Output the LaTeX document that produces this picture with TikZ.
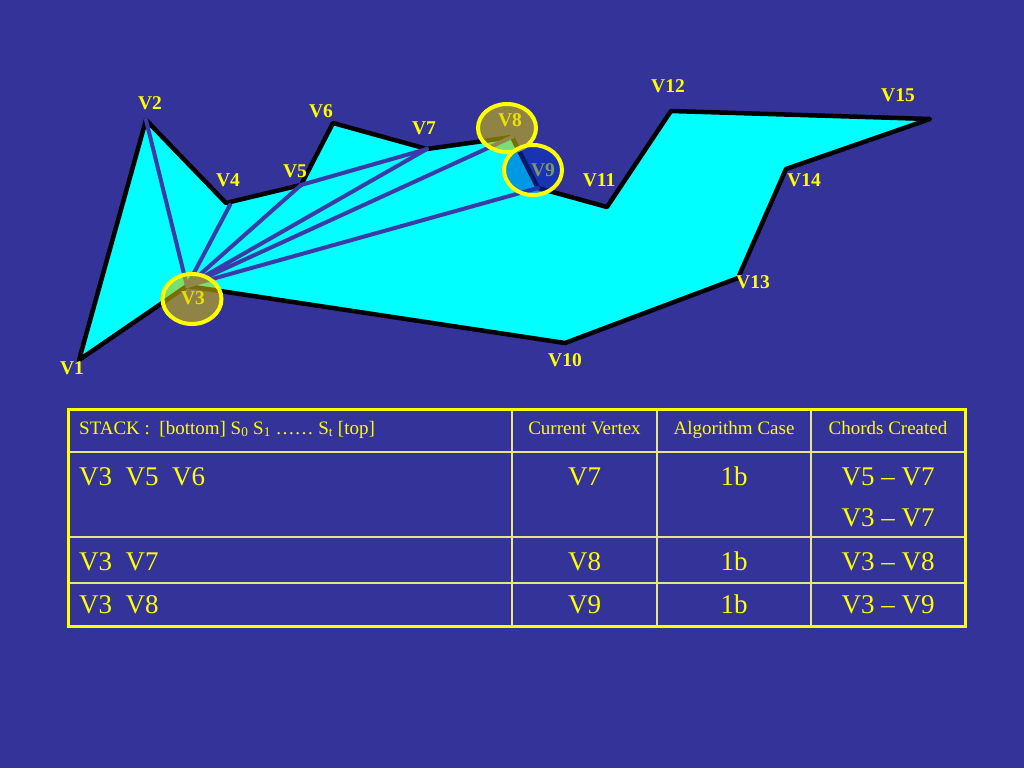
\documentclass[tikz,border=0pt]{standalone}
\usepackage{fontspec}
\setmainfont{Liberation Serif}
\definecolor{bg}{RGB}{51,51,153}
\definecolor{chordc}{RGB}{58,58,168}
\definecolor{polyc}{RGB}{0,255,255}
\definecolor{labc}{RGB}{255,255,0}
\definecolor{olivefill}{RGB}{220,200,0}
\definecolor{bluefill}{RGB}{0,51,204}
\definecolor{gridc}{RGB}{230,230,130}
\tikzset{
  vlab/.style={text=labc, font=\bfseries\fontsize{19.5}{20}\selectfont, inner sep=0pt},
  chord/.style={draw=chordc, line width=4pt, line cap=round},
  hilite/.style={draw=labc, line width=4pt},
  headtxt/.style={text=labc, font=\fontsize{19}{21}\selectfont, inner sep=0pt, anchor=base},
  bodytxt/.style={text=labc, font=\fontsize{27}{30}\selectfont, inner sep=0pt, anchor=base},
  grid/.style={draw=gridc, line width=2pt}
}
\begin{document}
\begin{tikzpicture}[x=1pt,y=-1pt]
\fill[bg] (0,0) rectangle (1024,768);
\useasboundingbox (0,0) rectangle (1024,768);
% vertices
\coordinate (v1) at (79,360);
\coordinate (v2) at (146,120);
\coordinate (v3) at (187,286);
\coordinate (v4) at (226,203);
\coordinate (v5) at (301,185);
\coordinate (v6) at (333,123);
\coordinate (v7) at (427,149);
\coordinate (v8) at (512,137);
\coordinate (v9) at (538,188);
\coordinate (v10) at (565,343);
\coordinate (v11) at (607,207);
\coordinate (v12) at (671,111);
\coordinate (v13) at (738,278);
\coordinate (v14) at (786,169);
\coordinate (v15) at (930,119);
% polygon
\filldraw[fill=polyc, draw=black, line width=4.5pt, line join=round]
  (v1) -- (v2) -- (v4) -- (v5) -- (v6) -- (v7) -- (v8) -- (v9) -- (v11) -- (v12)
  -- (v15) -- (v14) -- (v13) -- (v10) -- (v3) -- cycle;
% chords
\coordinate (v4e) at (230,205);
\draw[chord] (v3) -- (v2);
\draw[chord] (v3) -- (v4e);
\draw[chord] (v3) -- (v5);
\draw[chord] (v5) -- (v7);
\draw[chord] (v3) -- (v7);
\draw[chord] (v3) -- (v8);
\draw[chord] (v3) -- (v9);
% labels
\node[vlab] (l1) at (72,368) {V1};
\node[vlab] (l2) at (150,103) {V2};
\node[vlab] (l3) at (193,298) {V3};
\node[vlab] (l4) at (228,180) {V4};
\node[vlab] (l5) at (295,171) {V5};
\node[vlab] (l6) at (321,111) {V6};
\node[vlab] (l7) at (424,128) {V7};
\node[vlab] (l8) at (510,120) {V8};
\node[vlab] (l9) at (543,170) {V9};
\node[vlab] (l10) at (565,360) {V10};
\node[vlab] (l11) at (599,180) {V11};
\node[vlab] (l12) at (668,86) {V12};
\node[vlab] (l13) at (753,282) {V13};
\node[vlab] (l14) at (804,180) {V14};
\node[vlab] (l15) at (898,95) {V15};
% highlight circles
\fill[olivefill, opacity=0.55] (192,299) ellipse [x radius=29.5pt, y radius=25pt];
\draw[hilite] (192,299) ellipse [x radius=29.5pt, y radius=25pt];
\fill[olivefill, opacity=0.55] (507,128) ellipse [x radius=29pt, y radius=24pt];
\draw[hilite] (507,128) ellipse [x radius=29pt, y radius=24pt];
\fill[bluefill, opacity=0.5] (533,170) ellipse [x radius=29pt, y radius=25pt];
\draw[hilite] (533,170) ellipse [x radius=29pt, y radius=25pt];
% table grid
\draw[grid] (512,409) -- (512,626);
\draw[grid] (657,409) -- (657,626);
\draw[grid] (811,409) -- (811,626);
\draw[grid] (68,452) -- (965,452);
\draw[grid] (68,537) -- (965,537);
\draw[grid] (68,583) -- (965,583);
\draw[draw=labc, line width=3pt] (68,409) rectangle (965,626);
% header
\node[headtxt, anchor=base west] (h1) at (79,434) {STACK :\ \ [bottom] S\textsubscript{0} S\textsubscript{1} …… S\textsubscript{t} [top]};
\node[headtxt] (h2) at (584.5,434) {Current Vertex};
\node[headtxt] (h3) at (734,434) {Algorithm Case};
\node[headtxt] (h4) at (888,434) {Chords Created};
% row 1
\node[bodytxt, anchor=base west] (r1a) at (79,485) {V3\ \ V5\ \ V6};
\node[bodytxt] (r1b) at (584.5,485) {V7};
\node[bodytxt] (r1c) at (734,485) {1b};
\node[bodytxt] (r1d) at (888,485) {V5 – V7};
\node[bodytxt] (r1e) at (888,526) {V3 – V7};
% row 2
\node[bodytxt, anchor=base west] (r2a) at (79,570) {V3\ \ V7};
\node[bodytxt] (r2b) at (584.5,570) {V8};
\node[bodytxt] (r2c) at (734,570) {1b};
\node[bodytxt] (r2d) at (888,570) {V3 – V8};
% row 3
\node[bodytxt, anchor=base west] (r3a) at (79,613) {V3\ \ V8};
\node[bodytxt] (r3b) at (584.5,613) {V9};
\node[bodytxt] (r3c) at (734,613) {1b};
\node[bodytxt] (r3d) at (888,613) {V3 – V9};
\end{tikzpicture}
\end{document}
